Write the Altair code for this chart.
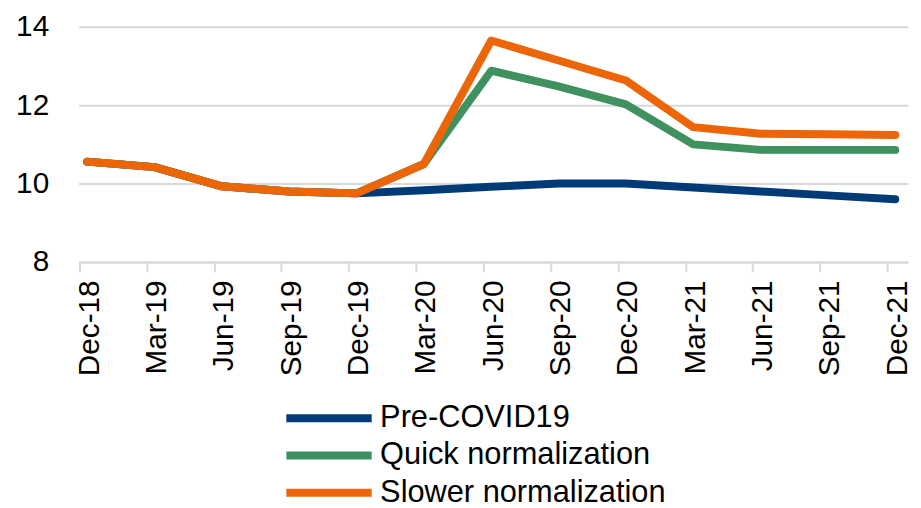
import altair as alt
import pandas as pd

quarters = ["Dec-18", "Mar-19", "Jun-19", "Sep-19", "Dec-19", "Mar-20", "Jun-20",
            "Sep-20", "Dec-20", "Mar-21", "Jun-21", "Sep-21", "Dec-21"]
pre_covid = [10.56, 10.42, 9.93, 9.80, 9.75, 9.83, 9.92, 10.0, 10.0, 9.9, 9.8, 9.7, 9.6]
quick_norm = [10.56, 10.42, 9.93, 9.80, 9.75, 10.5, 12.88, 12.48, 12.02, 11.0, 10.86, 10.86, 10.86]
slower_norm = [10.56, 10.42, 9.93, 9.80, 9.75, 10.5, 13.65, 13.14, 12.63, 11.44, 11.27, 11.26, 11.24]
series_names = ["Pre-COVID19", "Quick normalization", "Slower normalization"]
series_colors = ["#003B77", "#3F9160", "#EC6608"]
y_ticks = [8, 10, 12, 14]

rows = []
for name, vals in zip(series_names, [pre_covid, quick_norm, slower_norm]):
    for i, (q, v) in enumerate(zip(quarters, vals)):
        rows.append({"idx": i, "quarter": q, "series": name, "value": v})
df = pd.DataFrame(rows)

label_expr = "[" + ",".join(f"'{q}'" for q in quarters) + "][datum.value]"
FONT = "Liberation Sans"
GRID = "#D9D9D9"

chart = alt.Chart(df).mark_line(
    strokeWidth=8, strokeCap="round", strokeJoin="round"
).encode(
    x=alt.X("idx:Q",
            scale=alt.Scale(domain=[-0.13, 12.19], nice=False, zero=False),
            axis=alt.Axis(values=list(range(len(quarters))), labelExpr=label_expr,
                          labelAngle=-90, labelAlign="right", labelBaseline="middle",
                          grid=False, tickOffset=-8, labelOffset=10, tickSize=10,
                          tickColor=GRID, tickWidth=2, domainColor=GRID, domainWidth=2,
                          labelPadding=8, title=None, labelFontSize=30, labelFont=FONT,
                          labelColor="black", labelOverlap=False, labelFlush=False)),
    y=alt.Y("value:Q",
            scale=alt.Scale(domain=[8, 14], nice=False, zero=False),
            axis=alt.Axis(values=y_ticks, grid=True, gridColor=GRID, gridWidth=2,
                          domain=False, ticks=False, labelPadding=30, title=None,
                          labelFontSize=30, labelFont=FONT, labelColor="black")),
    color=alt.Color("series:N",
                    scale=alt.Scale(domain=series_names, range=series_colors),
                    legend=alt.Legend(title=None, orient="none", legendX=270, legendY=379,
                                      direction="vertical", symbolType="M-7.6,0H1",
                                      symbolSize=400, symbolStrokeWidth=8,
                                      labelFontSize=31, labelFont=FONT, labelColor="black",
                                      labelOffset=3, rowPadding=4.5, padding=0, labelLimit=0)),
).properties(
    width=836, height=237,
    padding={"left": 7, "top": 2, "right": 0, "bottom": 0},
    background="white",
).configure_view(stroke=None)

chart.save("out.html", embed_options={"renderer": "svg", "actions": False})
